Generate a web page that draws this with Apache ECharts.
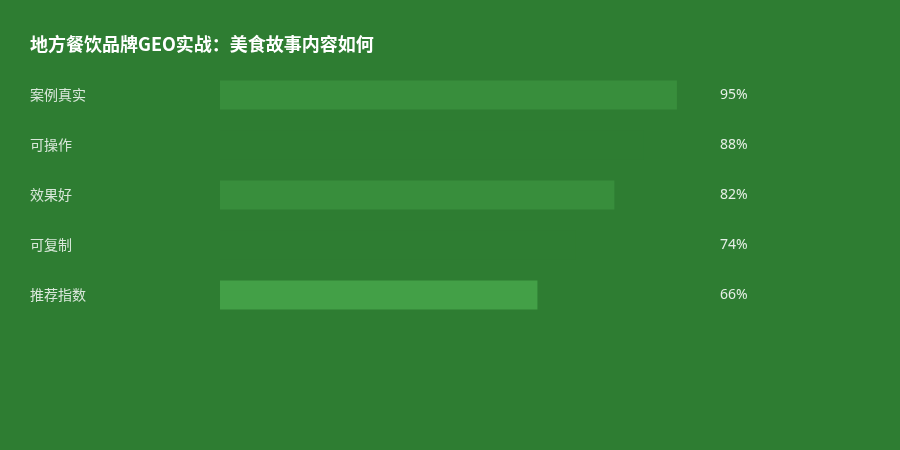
<!DOCTYPE html>
<html><head><meta charset="utf-8">
<script src="https://cdn.jsdelivr.net/npm/echarts@6/dist/echarts.min.js"></script>
<style>html,body{margin:0;padding:0;background:#2E7D32;}#c{width:900px;height:450px;}</style>
</head><body><div id="c"></div>
<script>
const titleText = '地方餐饮品牌GEO实战：美食故事内容如何';
const categories = ['案例真实', '可操作', '效果好', '可复制', '推荐指数'];
const values = [95, 88, 82, 74, 66];
const barColors = ['#388E3C', '#2E7D32', '#388E3C', '#2E7D32', '#43A047'];

const chart = echarts.init(document.getElementById('c'));
chart.setOption({
  backgroundColor: '#2E7D32',
  animation: false,
  title: {
    text: titleText, left: 30, top: 35, padding: 0,
    textStyle: { color: '#ffffff', fontSize: 18, fontWeight: 'bold', fontFamily: 'Noto Sans CJK SC' }
  },
  grid: { left: 220, width: 481, top: 70, height: 250 },
  xAxis: { type: 'value', min: 0, max: 100, show: false },
  yAxis: [{
    type: 'category', data: categories, inverse: true,
    axisLine: { show: false }, axisTick: { show: false }, splitLine: { show: false },
    axisLabel: { align: 'left', margin: 190, color: 'rgba(255,255,255,0.82)', fontSize: 14, fontFamily: 'Noto Sans CJK SC' }
  }, {
    type: 'category', data: values.map(v => v + '%'), inverse: true, position: 'right',
    axisLine: { show: false }, axisTick: { show: false }, splitLine: { show: false },
    axisLabel: { align: 'left', margin: 19, color: 'rgba(255,255,255,0.88)', fontSize: 14, fontFamily: 'Noto Sans' }
  }],
  series: [{
    type: 'bar', barWidth: 29,
    data: values.map((v, i) => ({ value: v, itemStyle: { color: barColors[i] } }))
  }]
});
</script></body></html>
